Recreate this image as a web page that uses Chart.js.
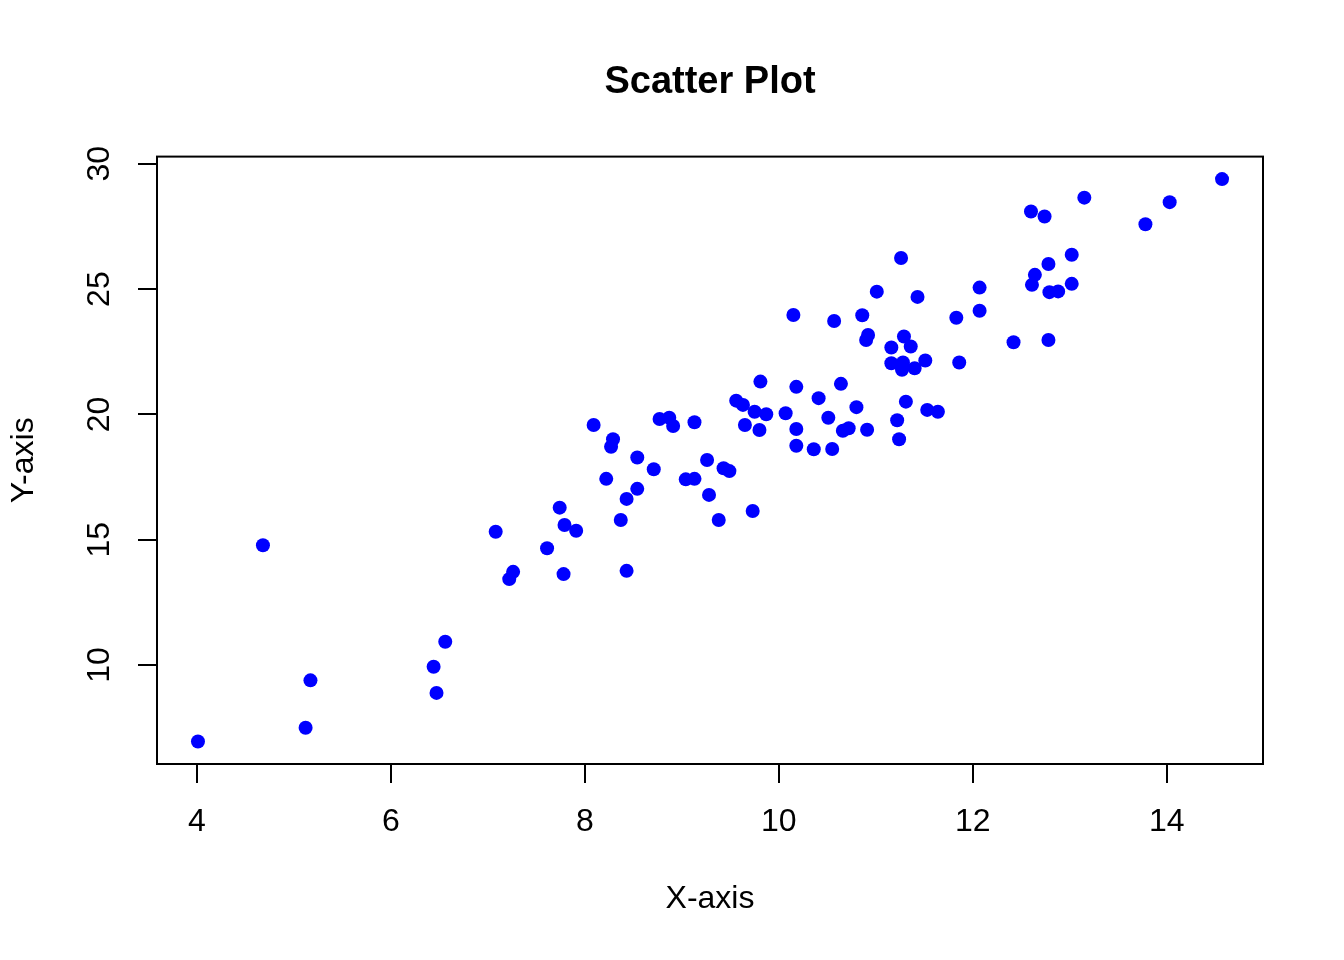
<!DOCTYPE html>
<html>
<head>
<meta charset="utf-8">
<title>Scatter Plot</title>
<script src="https://cdn.jsdelivr.net/npm/chart.js@4"></script>
<style>
  html, body { margin: 0; padding: 0; background: #fff; }
  #wrap { width: 1344px; height: 960px; }
</style>
</head>
<body>
<div id="wrap"><canvas id="scatterChart" width="1344" height="960"></canvas></div>
<script>
// values
const xValues = [
  4.01, 4.68, 5.12, 5.17, 6.44, 6.47, 6.56, 7.08, 7.22, 7.26,
  7.61, 7.74, 7.78, 7.79, 7.91, 8.09, 8.22, 8.27, 8.29, 8.37,
  8.43, 8.43, 8.54, 8.54, 8.71, 8.77, 8.87, 8.91, 9.04, 9.13,
  9.13, 9.26, 9.28, 9.38, 9.43, 9.49, 9.56, 9.63, 9.65, 9.73,
  9.75, 9.80, 9.81, 9.87, 10.07, 10.15, 10.18, 10.18, 10.18, 10.36,
  10.41, 10.51, 10.55, 10.57, 10.64, 10.66, 10.72, 10.80, 10.86, 10.91,
  10.90, 10.92, 11.01, 11.16, 11.16, 11.22, 11.24, 11.26, 11.28, 11.27,
  11.29, 11.31, 11.36, 11.40, 11.43, 11.51, 11.53, 11.64, 11.83, 11.86,
  12.07, 12.07, 12.42, 12.60, 12.61, 12.64, 12.74, 12.78, 12.78, 12.79,
  12.88, 13.02, 13.02, 13.15, 13.78, 14.03, 14.57
];
const yValues = [
  6.95, 14.78, 7.50, 9.39, 9.93, 8.89, 10.93, 15.32, 13.43, 13.72,
  14.66, 16.28, 13.63, 15.59, 15.36, 19.58, 17.43, 18.71, 19.01, 15.79,
  13.76, 16.63, 18.28, 17.03, 17.81, 19.82, 19.87, 19.54, 17.41, 19.69,
  17.43, 18.18, 16.79, 15.79, 17.85, 17.74, 20.55, 20.38, 19.58, 16.15,
  20.11, 19.38, 21.31, 20.01, 20.05, 23.97, 21.10, 19.42, 18.75, 18.61,
  20.65, 19.87, 18.62, 23.73, 21.22, 19.35, 19.45, 20.29, 23.96, 19.39,
  22.97, 23.17, 24.90, 22.67, 22.04, 19.77, 19.01, 26.24, 22.07, 21.78,
  23.11, 20.51, 22.71, 21.84, 24.69, 22.15, 20.18, 20.11, 23.86, 22.07,
  24.14, 25.06, 22.88, 28.10, 25.17, 25.57, 27.90, 22.97, 26.00, 24.88,
  24.91, 25.21, 26.37, 28.65, 27.59, 28.47, 29.39
];
const xTicks = [4, 6, 8, 10, 12, 14];
const yTicks = [10, 15, 20, 25, 30];

const points = xValues.map((x, i) => ({ x: x, y: yValues[i] }));

// R style axis limits: data range plus 4% each side
function paddedRange(values) {
  const lo = Math.min(...values);
  const hi = Math.max(...values);
  const pad = (hi - lo) * 0.04;
  return [lo - pad, hi + pad];
}
const [xMin, xMax] = paddedRange(xValues);
const [yMin, yMax] = paddedRange(yValues);

const FONT = "'Liberation Sans', Arial, Helvetica, sans-serif";

// full box round the plot region, like R's box()
const boxPlugin = {
  id: 'plotBox',
  afterDraw(chart) {
    const { ctx, chartArea } = chart;
    ctx.save();
    ctx.strokeStyle = '#000';
    ctx.lineWidth = 2;
    ctx.strokeRect(chartArea.left, chartArea.top,
      chartArea.right - chartArea.left, chartArea.bottom - chartArea.top);
    ctx.restore();
  },
};

const ctx = document.getElementById('scatterChart').getContext('2d');
new Chart(ctx, {
  type: 'scatter',
  data: {
    datasets: [
      {
        label: 'points',
        data: points,
        backgroundColor: '#0000ff',
        borderWidth: 0,
        pointRadius: 7,
        pointHoverRadius: 7,
      },
    ],
  },
  options: {
    responsive: false,
    animation: false,
    devicePixelRatio: 1,
    layout: {
      padding: { left: 0, right: 81, top: 0, bottom: 0 },
    },
    plugins: {
      legend: { display: false },
      tooltip: { enabled: false },
      title: {
        display: true,
        fullSize: false, // center over the plot region, not the canvas
        text: 'Scatter Plot',
        color: '#000',
        font: { family: FONT, size: 38, weight: 'bold' },
        padding: { top: 60, bottom: 51 },
      },
    },
    scales: {
      x: {
        type: 'linear',
        position: 'bottom',
        min: xMin,
        max: xMax,
        afterBuildTicks: (axis) => {
          axis.ticks = xTicks.map((v) => ({ value: v }));
        },
        afterFit: (axis) => {
          axis.height = 196;
        },
        grid: {
          display: true,
          drawOnChartArea: false,
          drawTicks: true,
          tickLength: 19,
          color: '#000',
          lineWidth: 2,
        },
        border: { display: true, color: '#000', width: 2 },
        ticks: {
          color: '#000',
          font: { family: FONT, size: 32 },
          padding: 20,
          maxRotation: 0,
          minRotation: 0,
          autoSkip: false,
        },
        title: {
          display: true,
          text: 'X-axis',
          color: '#000',
          font: { family: FONT, size: 32 },
          padding: { top: 0, bottom: 42 },
        },
      },
      y: {
        type: 'linear',
        position: 'left',
        min: yMin,
        max: yMax,
        afterBuildTicks: (axis) => {
          axis.ticks = yTicks.map((v) => ({ value: v }));
        },
        afterFit: (axis) => {
          axis.width = 157;
        },
        grid: {
          display: true,
          drawOnChartArea: false,
          drawTicks: true,
          tickLength: 19,
          color: '#000',
          lineWidth: 2,
        },
        border: { display: true, color: '#000', width: 2 },
        ticks: {
          color: '#000',
          font: { family: FONT, size: 32 },
          padding: 20,
          minRotation: 90,
          maxRotation: 90,
          crossAlign: 'center',
          autoSkip: false,
        },
        title: {
          display: true,
          text: 'Y-axis',
          color: '#000',
          font: { family: FONT, size: 32 },
          padding: { top: 5, bottom: 0 },
        },
      },
    },
  },
  plugins: [boxPlugin],
});
</script>
</body>
</html>
